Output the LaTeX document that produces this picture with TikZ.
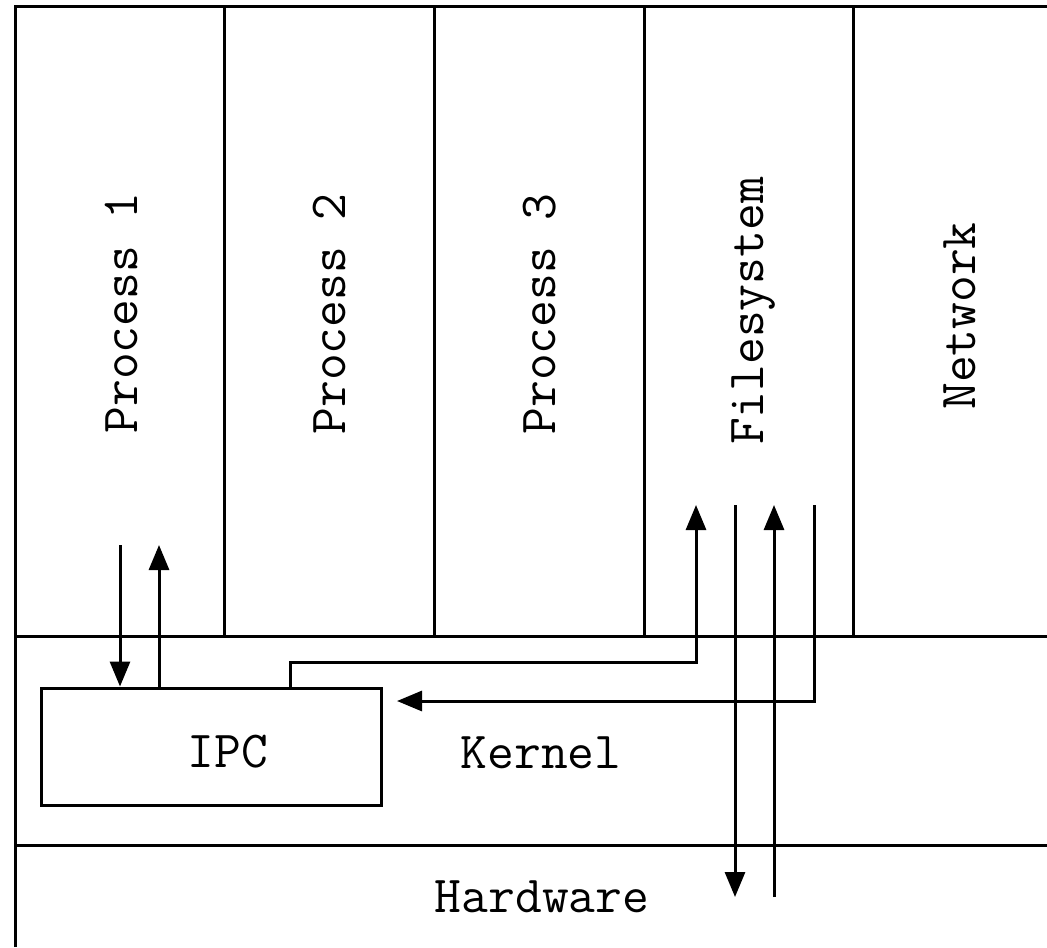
\documentclass[tikz,border=0pt]{standalone}
\usepackage{fontspec}
\usetikzlibrary{arrows.meta}
\tikzset{
  wall/.style={line width=1.5pt},
  flow/.style={line width=1.5pt, -{Triangle[length=12.5pt,width=10pt]}},
  vlabel/.style={rotate=90, anchor=base, inner sep=0pt},
  hlabel/.style={anchor=base, inner sep=0pt}
}
\begin{document}
\begin{tikzpicture}[x=0.5pt, y=-0.5pt, font=\ttfamily\fontsize{26}{30}\selectfont]
  \useasboundingbox (0,0) rectangle (1047,947);
  % Strati
  \draw [wall] (15,947) -- (15,7) -- (1047,7);
  \draw [wall] (15,636) -- (1047,636);
  \draw [wall] (15,845) -- (1047,845);
  \foreach \x in {224,434,644,853}
    \draw [wall] (\x,7) -- (\x,636);
  % Etichette
  \foreach \x/\y/\t/\n in {137/313/Process 1/pa, 345/314/Process 2/pb,
      555/314/Process 3/pc, 763/311/Filesystem/fs, 975/316/Network/net}
    \node [vlabel] (\n) at (\x,\y) {\t};
  \node [hlabel] (kernel) at (541,768) {Kernel};
  \node [hlabel] (hardware) at (542,912) {Hardware};
  % IPC
  \node [draw, wall, minimum width=170pt, minimum height=58.5pt, inner sep=0pt] (ipc) at (211,746.5) {};
  \node [hlabel] (ipctext) at (228,767) {IPC};
  % Frecce
  \coordinate (paout) at (120,545);
  \coordinate (pain) at (159,545);
  \coordinate (jog) at (290,662);
  \coordinate (fsin) at (696,505);
  \coordinate (fsout) at (814,505);
  \coordinate (ipcret) at (397,701);
  \coordinate (hwtopa) at (735,505);
  \coordinate (hwbota) at (735,897);
  \coordinate (hwtopb) at (774,505);
  \coordinate (hwbotb) at (774,897);
  \draw [flow] (paout) -- (paout |- ipc.north);
  \draw [flow] (pain |- ipc.north) -- (pain);
  \draw [flow] (jog |- ipc.north) -- (jog) -| (fsin);
  \draw [flow] (fsout) |- (ipcret);
  \draw [flow] (hwtopa) -- (hwbota);
  \draw [flow] (hwbotb) -- (hwtopb);
\end{tikzpicture}
\end{document}
